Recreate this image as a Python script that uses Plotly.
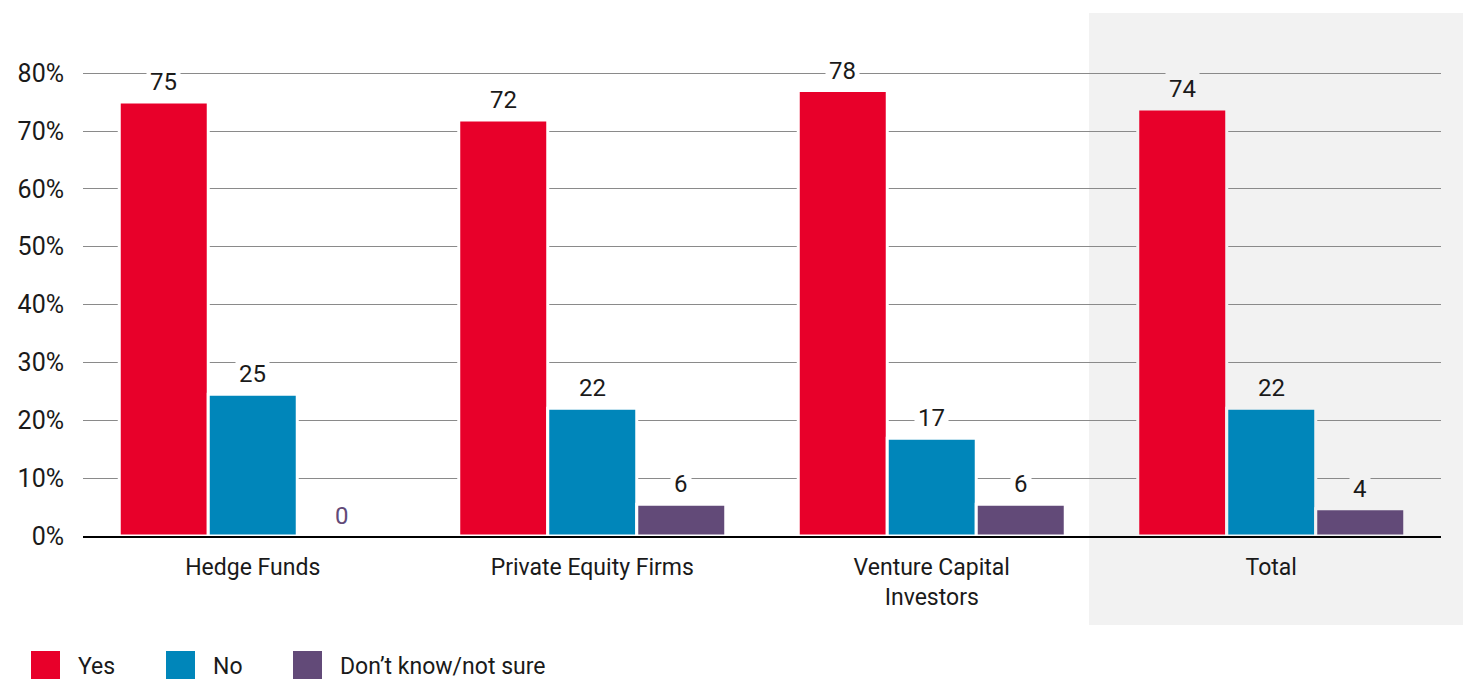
import plotly.graph_objects as go

categories = ["Hedge Funds", "Private Equity Firms", "Venture Capital<br>Investors", "Total"]
series_names = ["Yes", "No", "Don\u2019t know/not sure"]
series_colors = ["#E8002A", "#0086BA", "#624A78"]
yes_vals = [75.0, 71.9, 77.0, 73.8]
no_vals = [24.5, 22.1, 16.9, 22.1]
dk_vals = [0.0, 5.5, 5.5, 4.7]
yes_labels = ["75", "72", "78", "74"]
no_labels = ["25", "22", "17", "22"]
dk_labels = ["0", "6", "6", "4"]
tick_vals = [0, 10, 20, 30, 40, 50, 60, 70, 80]
tick_text = ["0%", "10%", "20%", "30%", "40%", "50%", "60%", "70%", "80%"]
highlight = "Total"

series_vals = [yes_vals, no_vals, dk_vals]
series_labels = [yes_labels, no_labels, dk_labels]

FONT = "Roboto"
TXT = "#1a1a1a"
HL_BG = "#f2f2f2"

# the page body adds an 8px margin around the figure
OFF = 8
W, H = 1471 - OFF, 679 - OFF
PLOT_L, PLOT_R, PLOT_T, PLOT_B = 83, 1441, 13, 536  # in window pixels
ML, MR, MT, MB = PLOT_L - OFF, (W + OFF) - PLOT_R, PLOT_T - OFF, (H + OFF) - PLOT_B
PW, PH = W - ML - MR, H - MT - MB
YMAX = 90.4


def px_x(p):
    return (p - PLOT_L) / PW


def px_y(p):
    return (PLOT_B - p) / PH


slot = 89 / (PW / 4)
bg = [HL_BG if c == highlight else "white" for c in categories]

fig = go.Figure()
annotations = []
for j, (name, color, vals, labs) in enumerate(zip(series_names, series_colors, series_vals, series_labels)):
    xs = [i + (j - 1) * slot for i in range(len(categories))]
    fig.add_trace(go.Bar(
        x=xs, y=vals, width=slot, name=name,
        marker=dict(color=color, line=dict(color=bg, width=3)),
        showlegend=False, hoverinfo="skip",
    ))
    for x, v, lab, b in zip(xs, vals, labs, bg):
        annotations.append(dict(
            x=x, y=v, xref="x", yref="y", text=lab, showarrow=False,
            yanchor="middle", yshift=20,
            font=dict(family=FONT, size=24, color=(color if v == 0 else TXT)),
            bgcolor=b, borderpad=3,
        ))

# highlight panel for Total
shapes = [dict(
    type="rect", xref="paper", yref="paper", layer="below",
    x0=px_x(1089), x1=px_x(1471 + 2), y0=px_y(625), y1=1,
    fillcolor=HL_BG, line=dict(width=0),
)]

# manual legend
leg_sw = [31, 166, 293]
for name, color, sx in zip(series_names, series_colors, leg_sw):
    shapes.append(dict(
        type="rect", xref="paper", yref="paper",
        x0=px_x(sx), x1=px_x(sx + 29), y0=px_y(680), y1=px_y(651),
        fillcolor=color, line=dict(width=0),
    ))
    annotations.append(dict(
        x=px_x(sx + 45), y=px_y(666), xref="paper", yref="paper",
        xanchor="left", yanchor="middle", text=name, showarrow=False,
        font=dict(family=FONT, size=23, color=TXT),
    ))

fig.update_layout(
    width=W, height=H,
    margin=dict(l=ML, r=MR, t=MT, b=MB, pad=0),
    paper_bgcolor="white", plot_bgcolor="rgba(0,0,0,0)",
    barmode="overlay", showlegend=False,
    shapes=shapes, annotations=annotations,
    font=dict(family=FONT, color=TXT),
    xaxis=dict(
        range=[-0.5, len(categories) - 0.5],
        tickvals=list(range(len(categories))), ticktext=categories,
        showgrid=False, zeroline=False, ticks="",
        showline=True, linecolor="black", linewidth=2,
        tickfont=dict(family=FONT, size=23, color=TXT),
        ticklabelstandoff=9,
    ),
    yaxis=dict(
        range=[0, YMAX], tickvals=tick_vals, ticktext=tick_text,
        showgrid=True, gridcolor="#8a8a8a", gridwidth=1,
        zeroline=False, ticks="", showline=False,
        tickfont=dict(family=FONT, size=25, color=TXT),
        ticklabelstandoff=18,
    ),
)

fig.write_html("out.html")
